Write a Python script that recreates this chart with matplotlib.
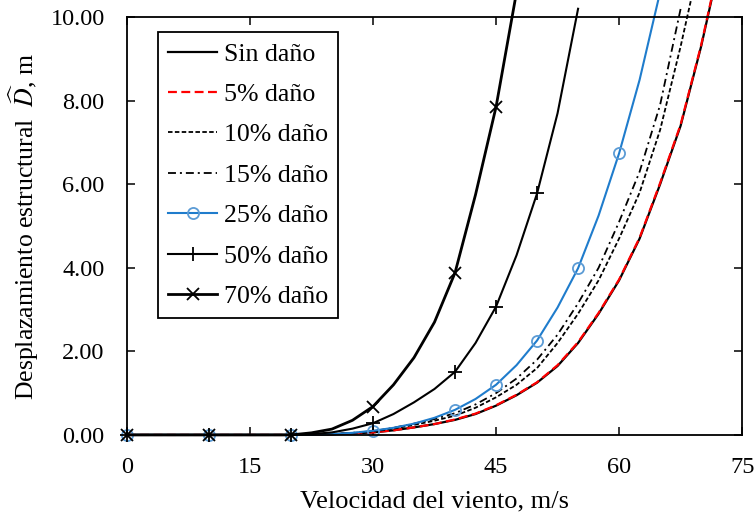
import matplotlib
matplotlib.use('Agg')
import matplotlib.pyplot as plt
from matplotlib.patches import Rectangle

plt.rcParams['font.family'] = ['Liberation Serif', 'DejaVu Serif']
plt.rcParams['mathtext.fontset'] = 'stix'

# wind speed grid (m/s); markers only where the series has a measured point
viento = [0, 10, 20, 22.5, 25, 27.5, 30, 32.5, 35, 37.5, 40, 42.5, 45, 47.5,
          50, 52.5, 55, 57.5, 60, 62.5, 65, 67.5, 70, 72.5]
viento_marcas = [0, 10, 20, 30, 40, 45, 50, 55, 60, 65, 70]

sin_dano = [0, 0, 0, 0.005, 0.015, 0.035, 0.06, 0.11, 0.18, 0.26, 0.36, 0.50, 0.70, 0.95,
            1.25, 1.65, 2.20, 2.90, 3.70, 4.70, 6.00, 7.40, 9.30, 11.5]
dano_5 = [0, 0, 0, 0.005, 0.015, 0.035, 0.06, 0.11, 0.18, 0.26, 0.37, 0.51, 0.71, 0.96,
          1.26, 1.67, 2.22, 2.92, 3.72, 4.72, 6.03, 7.43, 9.33, 11.55]
dano_10 = [0, 0, 0, 0.007, 0.02, 0.045, 0.08, 0.15, 0.24, 0.34, 0.46, 0.65, 0.90, 1.20,
           1.60, 2.20, 2.90, 3.70, 4.70, 5.80, 7.30, 9.30, 11.5]
dano_15 = [0, 0, 0, 0.008, 0.022, 0.05, 0.09, 0.17, 0.27, 0.38, 0.52, 0.73, 1.00, 1.35,
           1.80, 2.40, 3.15, 4.00, 5.10, 6.30, 7.90, 10.2]
dano_25 = [0, 0, 0, 0.008, 0.02, 0.05, 0.10, 0.17, 0.27, 0.41, 0.60, 0.86, 1.20, 1.67,
           2.26, 3.05, 3.99, 5.25, 6.74, 8.50, 10.6]
dano_50 = [0, 0, 0, 0.02, 0.06, 0.15, 0.28, 0.50, 0.78, 1.10, 1.51, 2.20, 3.07, 4.30,
           5.78, 7.70, 10.2]
dano_70 = [0, 0, 0, 0.05, 0.14, 0.35, 0.68, 1.20, 1.85, 2.70, 3.88, 5.75, 7.85, 10.6]

etiquetas = ['Sin daño', '5% daño', '10% daño', '15% daño', '25% daño', '50% daño', '70% daño']

fig = plt.figure(figsize=(7.55, 5.19), dpi=100)
ax = fig.add_axes([0.168, 0.162, 0.815, 0.805])

estilos = [
    dict(color='black', lw=1.6, ls='-'),
    dict(color='#ff0000', lw=1.6, ls=(0, (4, 2))),
    dict(color='black', lw=1.3, ls=(0, (2.5, 1.3))),
    dict(color='black', lw=1.3, ls=(0, (4.4, 2.2, 1.1, 2.2))),
    dict(color='#1f7ccc', lw=1.5, ls='-', marker='o', ms=8, mfc='none', mec='#5b9bd5', mew=1.3),
    dict(color='black', lw=1.5, ls='-', marker='+', ms=10, mew=1.3),
    dict(color='black', lw=2.0, ls='-', marker='x', ms=8, mew=1.3),
]
series = [sin_dano, dano_5, dano_10, dano_15, dano_25, dano_50, dano_70]

# clip at the top of the plot only, so markers sitting on the axes stay whole
clip = Rectangle((-0.05, -0.05), 1.1, 1.05, transform=ax.transAxes, visible=False)
ax.add_patch(clip)

for ys, lab, st in zip(series, etiquetas, estilos):
    xs = viento[:len(ys)]
    marcas = [i for i, (x, y) in enumerate(zip(xs, ys)) if x in viento_marcas and y <= 10]
    ln, = ax.plot(xs, ys, label=lab, markevery=marcas, clip_on=False, **st)
    ln.set_clip_path(clip)

ax.set_xlim(0, 75)
ax.set_ylim(0, 10)
ax.set_xticks([0, 15, 30, 45, 60, 75])
ax.set_yticks([0, 2, 4, 6, 8, 10])
ax.set_yticklabels([f'{v:.2f}' for v in [0, 2, 4, 6, 8, 10]])
ax.tick_params(direction='in', length=6, width=1.1, labelsize=17.5,
               top=True, right=True, colors='black')
ax.tick_params(axis='x', pad=16)
ax.tick_params(axis='y', pad=16)
for s in ax.spines.values():
    s.set_linewidth(1.3)

ax.set_xlabel('Velocidad del viento, m/s', fontsize=19, labelpad=9)
ax.set_ylabel(r'Desplazamiento estructural  $\widehat{D}$, m', fontsize=18.5, labelpad=7)

leg = ax.legend(loc='upper left', bbox_to_anchor=(0.0504, 0.964), fontsize=18.6,
                frameon=True, fancybox=False, edgecolor='black', framealpha=1,
                handlelength=1.9, labelspacing=0.67, borderpad=0.4, handletextpad=0.25,
                borderaxespad=0)
leg.get_frame().set_linewidth(1.3)

fig.savefig('out.png', dpi=100)
